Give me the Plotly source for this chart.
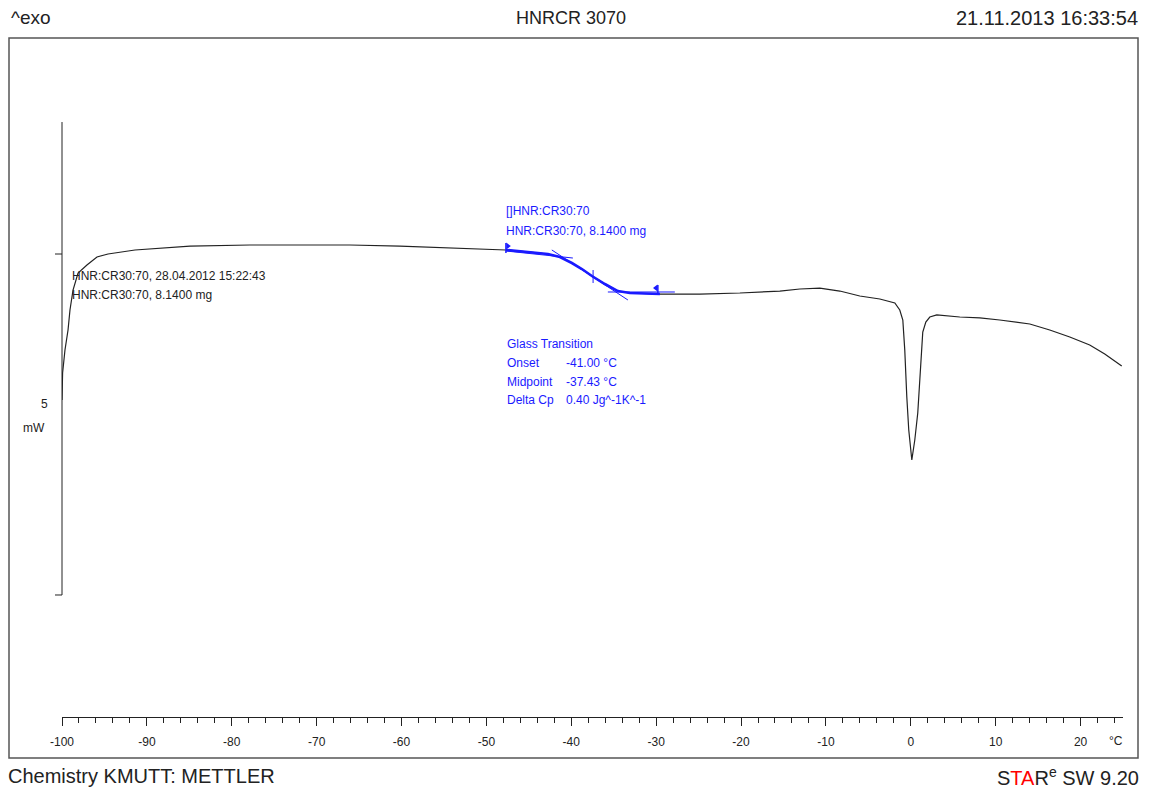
import plotly.graph_objects as go

# ---------------- data ----------------
temperature = [-100.0, -99.96, -99.93, -99.65, -99.29, -99.06, -98.70, -98.11, -97.06, -95.88,
               -94.58, -91.40, -84.92, -77.86, -71.97, -66.08, -60.19, -54.30, -50.77, -47.70,
               -44.88, -42.76, -41.34, -39.93, -38.75, -37.57, -36.04, -34.51, -33.10, -29.56,
               -24.85, -20.14, -15.43, -13.07, -10.72, -8.36, -6.01, -3.65, -1.88, -1.30,
               -0.94, -0.71, -0.47, -0.24, 0.12, 0.47, 0.82, 1.06, 1.41, 1.77,
               2.24, 3.06, 5.77, 8.13, 10.48, 14.02, 16.37, 18.73, 21.08, 22.85, 24.85]
heat_flow = [2.859, 3.079, 3.255, 3.592, 3.886, 4.179, 4.472, 4.721, 4.839, 4.956,
             5.000, 5.059, 5.117, 5.132, 5.132, 5.132, 5.117, 5.088, 5.074, 5.059,
             5.029, 5.000, 4.956, 4.868, 4.780, 4.677, 4.560, 4.457, 4.428, 4.413,
             4.413, 4.428, 4.457, 4.487, 4.501, 4.457, 4.384, 4.340, 4.282, 4.179,
             4.032, 3.592, 2.903, 2.419, 1.979, 2.273, 2.669, 3.226, 3.856, 4.003,
             4.076, 4.106, 4.076, 4.062, 4.032, 3.974, 3.886, 3.783, 3.666, 3.534, 3.358]

# glass transition evaluation (blue)
eval_limits = [-47.70, -29.56]
baseline1_x = [-47.70, -39.81]
baseline1_y = [5.044, 4.941]
tangent_x = [-42.29, -33.33]
tangent_y = [5.059, 4.326]
baseline2_x = [-35.69, -27.80]
baseline2_y = [4.443, 4.443]
midpoint_T = -37.43
flag_left = dict(x=-47.70, y=[5.015, 5.161], tri_y=5.117)
flag_right = dict(x=-29.80, y=[4.399, 4.545], tri_y=4.501)
midpoint_tick_y = [4.575, 4.765]

# axes
x_range = [-100, 25]
y_range = [-1.789, 8.138]
tick_values = [-100, -90, -80, -70, -60, -50, -40, -30, -20, -10, 0, 10, 20]
tick_labels = ["-100", "-90", "-80", "-70", "-60", "-50", "-40", "-30", "-20", "-10", "0", "10", "20"]
scale_bar = [0.0, 6.935]      # mW, vertical scale bar
scale_ticks = [0.0, 5.0]      # mW

# ---------------- layout constants ----------------
W, H = 1150, 793
ML, MR, MT, MB = 62, 27, 40, 76
PW, PH = W - ML - MR, H - MT - MB
FONT = "Liberation Sans"
BLUE = "#1a1aff"


def px_x(px):
    return (px - ML) / PW


def px_y(py):
    return (H - MB - py) / PH


def data_y_paper(v):
    return (v - y_range[0]) / (y_range[1] - y_range[0])


fig = go.Figure()

# main black curve
fig.add_trace(go.Scatter(x=temperature, y=heat_flow, mode="lines",
                         line=dict(color="#222222", width=1.2), hoverinfo="skip"))

# blue evaluated segment
seg = [(t, h) for t, h in zip(temperature, heat_flow) if eval_limits[0] <= t <= eval_limits[1]]
fig.add_trace(go.Scatter(x=[s[0] for s in seg], y=[s[1] for s in seg], mode="lines",
                         line=dict(color=BLUE, width=2.6), hoverinfo="skip"))

# tangents and baselines
for xs, ys in [(baseline1_x, baseline1_y), (tangent_x, tangent_y), (baseline2_x, baseline2_y)]:
    fig.add_trace(go.Scatter(x=xs, y=ys, mode="lines", line=dict(color=BLUE, width=1),
                             hoverinfo="skip"))

# flags
for fl, sym, dx in [(flag_left, "triangle-right", 0.22), (flag_right, "triangle-left", -0.22)]:
    fig.add_trace(go.Scatter(x=[fl["x"], fl["x"]], y=fl["y"], mode="lines",
                             line=dict(color=BLUE, width=1.5), hoverinfo="skip"))
    fig.add_trace(go.Scatter(x=[fl["x"] + dx], y=[fl["tri_y"]], mode="markers",
                             marker=dict(symbol=sym, size=6, color=BLUE), hoverinfo="skip"))

# midpoint tick
fig.add_trace(go.Scatter(x=[midpoint_T, midpoint_T], y=midpoint_tick_y, mode="lines",
                         line=dict(color=BLUE, width=1), hoverinfo="skip"))

shapes = []
# outer frame
shapes.append(dict(type="rect", xref="paper", yref="paper",
                   x0=px_x(9), x1=px_x(1138), y0=px_y(758), y1=px_y(38),
                   line=dict(color="#555555", width=1.5)))
# scale bar
shapes.append(dict(type="line", xref="paper", yref="paper", x0=0, x1=0,
                   y0=data_y_paper(scale_bar[0]), y1=data_y_paper(scale_bar[1]),
                   line=dict(color="#222222", width=1)))
for v in scale_ticks:
    shapes.append(dict(type="line", xref="paper", yref="paper", x0=-7 / PW, x1=0,
                       y0=data_y_paper(v), y1=data_y_paper(v),
                       line=dict(color="#222222", width=1)))

ann = []


def add_text(text, x, y, xref="paper", yref="paper", size=12, color="#222222",
             xanchor="left"):
    ann.append(dict(text=text, x=x, y=y, xref=xref, yref=yref, showarrow=False,
                    xanchor=xanchor, yanchor="middle",
                    font=dict(family=FONT, size=size, color=color)))


# header / footer
add_text("^exo", px_x(9), px_y(18), size=19)
add_text("HNRCR 3070", px_x(571), px_y(18), size=18, xanchor="center")
add_text("21.11.2013 16:33:54", px_x(1140), px_y(18), size=20, xanchor="right")
add_text("Chemistry KMUTT: METTLER", px_x(6), px_y(776), size=20)
add_text("S<span style='color:#ff0000'>TA</span>R<sup>e</sup> SW 9.20",
         px_x(1141), px_y(776), size=20, xanchor="right")
add_text("°C", px_x(1107), px_y(741), size=12)
# scale bar label
add_text("5", px_x(50), px_y(404), size=12, xanchor="right")
add_text("mW", px_x(47), px_y(428), size=12, xanchor="right")

# sample labels
add_text("HNR:CR30:70, 28.04.2012 15:22:43", -99.06, 4.677, "x", "y")
add_text("HNR:CR30:70, 8.1400 mg", -99.06, 4.399, "x", "y")
add_text("[]HNR:CR30:70", -47.94, 5.630, "x", "y", color=BLUE)
add_text("HNR:CR30:70, 8.1400 mg", -47.94, 5.337, "x", "y", color=BLUE)

# glass transition results
gt_labels = ["Glass Transition", "Onset", "Midpoint", "Delta Cp"]
gt_values = ["", "-41.00 °C", "-37.43 °C", "0.40 Jg^-1K^-1"]
gt_y = [3.680, 3.402, 3.123, 2.859]
for lab, val, yy in zip(gt_labels, gt_values, gt_y):
    add_text(lab, -47.82, yy, "x", "y", color=BLUE)
    if val:
        add_text(val, -40.87, yy, "x", "y", color=BLUE)

fig.update_layout(
    width=W, height=H,
    margin=dict(l=ML, r=MR, t=MT, b=MB, pad=0),
    paper_bgcolor="white", plot_bgcolor="white",
    showlegend=False,
    shapes=shapes, annotations=ann,
    xaxis=dict(range=x_range, showline=True, linecolor="#222222", linewidth=1,
               ticks="outside", ticklen=8, tickwidth=1, tickcolor="#222222",
               tickmode="array", tickvals=tick_values, ticktext=tick_labels,
               showgrid=False, zeroline=False,
               minor=dict(dtick=2, tick0=0, ticks="outside", ticklen=5, tickcolor="#222222",
                          tickwidth=1, showgrid=False),
               tickfont=dict(family=FONT, size=12, color="#222222"),
               ticklabelstandoff=6, fixedrange=True),
    yaxis=dict(range=y_range, visible=False, fixedrange=True),
)

fig.write_html("out.html", config={"displayModeBar": False},
               post_script="document.body.style.margin='0px';document.body.style.overflow='hidden';")
